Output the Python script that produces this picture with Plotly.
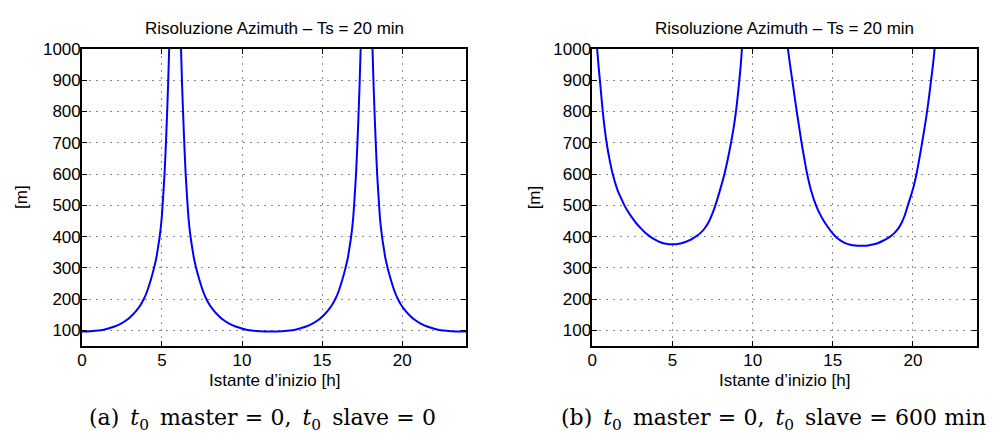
import plotly.graph_objects as go

# ---------------- data ----------------
# (a) t0 master = 0, t0 slave = 0  -- three visible branches
a1_t = [0, 0.54, 1.04, 1.54, 2.04, 2.44, 2.84, 3.14, 3.39, 3.64, 3.89, 4.09, 4.29, 4.49, 4.64, 4.76,
        4.88, 4.98, 5.07, 5.16, 5.24, 5.31, 5.38, 5.45]
a1_v = [97, 98, 100, 105, 113, 122, 135, 149, 163, 180, 203, 228, 260, 297, 330, 367,
        410, 458, 525, 600, 690, 780, 880, 1000]

a2_t = [6.19, 6.26, 6.33, 6.40, 6.48, 6.57, 6.66, 6.76, 6.88, 7.0, 7.15, 7.35, 7.55, 7.75, 8.0, 8.25,
        8.5, 8.8, 9.2, 9.6, 10.1, 10.6, 11.1, 11.8, 12.5, 13.0, 13.5, 14.0, 14.4, 14.8, 15.1, 15.35,
        15.6, 15.85, 16.05, 16.25, 16.45, 16.6, 16.72, 16.84, 16.94, 17.03, 17.12, 17.2, 17.27, 17.34, 17.41]
a2_v = [1000, 880, 780, 690, 600, 525, 458, 410, 367, 330, 297, 260, 228, 203, 180, 163,
        149, 135, 122, 113, 105, 100, 98, 97, 98, 100, 105, 113, 122, 135, 149, 163,
        180, 203, 228, 260, 297, 330, 367, 410, 458, 525, 600, 690, 780, 880, 1000]

a3_t = [18.15, 18.22, 18.29, 18.36, 18.44, 18.53, 18.62, 18.72, 18.84, 18.96, 19.11, 19.31, 19.51, 19.71,
        19.96, 20.21, 20.46, 20.76, 21.16, 21.56, 22.06, 22.56, 23.06, 23.78, 24.0]
a3_v = [1000, 880, 780, 690, 600, 525, 458, 410, 367, 330, 297, 260, 228, 203,
        180, 163, 149, 135, 122, 113, 105, 100, 98, 97, 97]

# (b) t0 master = 0, t0 slave = 600 min -- two visible branches
b1_t = [0.30, 0.38, 0.47, 0.56, 0.65, 0.76, 0.89, 1.06, 1.27, 1.55, 1.8, 2.0, 2.25, 2.5, 2.75, 3.0,
        3.25, 3.5, 3.75, 4.0, 4.25, 4.5, 4.75, 5.0, 5.25, 5.5, 5.75, 6.0, 6.25, 6.5, 6.75, 7.0,
        7.25, 7.5, 7.75, 8.0, 8.24, 8.45, 8.65, 8.82, 8.96, 9.07, 9.17, 9.26, 9.33]
b1_v = [1000, 950, 900, 850, 800, 750, 700, 650, 600, 552, 522, 500, 478, 459, 442, 428,
        415, 404, 395, 388, 382, 378, 376, 375.5, 376, 378, 382, 387, 394, 402, 412, 426,
        446, 475, 512, 555, 600, 648, 700, 750, 800, 850, 900, 950, 1000]

b2_t = [12.2, 12.33, 12.47, 12.61, 12.75, 12.9, 13.05, 13.22, 13.4, 13.63, 13.95, 14.2, 14.45, 14.7,
        14.95, 15.2, 15.45, 15.7, 15.95, 16.25, 16.55, 16.88, 17.2, 17.5, 17.8, 18.1, 18.35, 18.6,
        18.85, 19.1, 19.3, 19.5, 19.68, 19.85, 20.05, 20.22, 20.4, 20.57, 20.73, 20.88, 21.01, 21.13,
        21.25, 21.35]
b2_v = [1000, 950, 900, 850, 800, 750, 700, 650, 600, 550, 500, 472, 449, 430,
        413, 399, 389, 381, 376, 372.5, 371, 371, 372, 375, 379, 386, 393, 401,
        412, 427, 445, 470, 500, 527, 562, 600, 650, 700, 750, 800, 850, 900,
        950, 1000]

x_ticks = [0, 5, 10, 15, 20]
y_ticks = [100, 200, 300, 400, 500, 600, 700, 800, 900, 1000]
x_range = [0, 24]
y_range = [50, 1000]

title_text = "Risoluzione Azimuth \u2013 Ts = 20 min"
xlabel_text = "Istante d\u2019inizio [h]"
ylabel_text = "[m]"
caption_a = ("(a)\u2002<i>t</i><sub>0</sub>\u2002master\u2004=\u20040,\u2002"
             "<i>t</i><sub>0</sub>\u2002slave\u2004=\u20040")
caption_b = ("(b)\u2002<i>t</i><sub>0</sub>\u2002master\u2004=\u20040,\u2002"
             "<i>t</i><sub>0</sub>\u2002slave\u2004=\u2004600\u2004min")

# ---------------- figure ----------------
W, H = 997, 435
fig = go.Figure()

line_style = dict(color="#0000ff", width=2, shape="spline", smoothing=0.7)
for t, v in [(a1_t, a1_v), (a2_t, a2_v), (a3_t, a3_v)]:
    fig.add_trace(go.Scatter(x=t, y=v, mode="lines", line=line_style, xaxis="x", yaxis="y",
                             showlegend=False, hoverinfo="skip"))
for t, v in [(b1_t, b1_v), (b2_t, b2_v)]:
    fig.add_trace(go.Scatter(x=t, y=v, mode="lines", line=line_style, xaxis="x2", yaxis="y2",
                             showlegend=False, hoverinfo="skip"))

left_dom = [77.3 / W, 463.5 / W]
right_dom = [590.3 / W, 977.0 / W]
y_dom = [1 - 344.3 / H, 1 - 40.7 / H]

tick_font = dict(family="Liberation Sans, Arial, sans-serif", size=17, color="black")
axis_common = dict(
    showline=True, linecolor="black", linewidth=1.5, mirror="ticks",
    ticks="inside", ticklen=5, tickwidth=1, tickcolor="black",
    showgrid=True, gridcolor="#8a8a8a", griddash="2px,5px", gridwidth=1,
    zeroline=False, tickfont=tick_font, fixedrange=True,
)

fig.update_layout(
    width=W, height=H,
    margin=dict(l=0, r=0, t=0, b=0),
    paper_bgcolor="white", plot_bgcolor="white",
    xaxis=dict(domain=left_dom, range=x_range, tickvals=x_ticks, anchor="y",
               ticklabelstandoff=-2, **axis_common),
    yaxis=dict(domain=y_dom, range=y_range, tickvals=y_ticks, anchor="x",
               ticklabelstandoff=-4, **axis_common),
    xaxis2=dict(domain=right_dom, range=x_range, tickvals=x_ticks, anchor="y2",
                ticklabelstandoff=-2, **axis_common),
    yaxis2=dict(domain=y_dom, range=y_range, tickvals=y_ticks, anchor="x2",
                ticklabelstandoff=-4, **axis_common),
)

label_font = dict(family="Liberation Sans, Arial, sans-serif", size=17, color="black")
cap_font = dict(family="DejaVu Serif, serif", size=22, color="black")

annotations = []
for dom in (left_dom, right_dom):
    cx = (dom[0] + dom[1]) / 2
    annotations.append(dict(text=title_text, x=cx, y=1 - 20 / H, xref="paper", yref="paper",
                            xanchor="center", yanchor="middle", showarrow=False, font=label_font))
    annotations.append(dict(text=xlabel_text, x=cx, y=1 - 379.5 / H, xref="paper", yref="paper",
                            xanchor="center", yanchor="middle", showarrow=False, font=label_font))
annotations.append(dict(text=ylabel_text, x=16 / W, y=1 - 192 / H, xref="paper", yref="paper",
                        xanchor="center", yanchor="middle", textangle=-90, showarrow=False, font=label_font))
annotations.append(dict(text=ylabel_text, x=532 / W, y=1 - 192 / H, xref="paper", yref="paper",
                        xanchor="center", yanchor="middle", textangle=-90, showarrow=False, font=label_font))
annotations.append(dict(text=caption_a, x=259 / W, y=1 - 419 / H, xref="paper", yref="paper",
                        xanchor="center", yanchor="middle", showarrow=False, font=cap_font))
annotations.append(dict(text=caption_b, x=772 / W, y=1 - 419 / H, xref="paper", yref="paper",
                        xanchor="center", yanchor="middle", showarrow=False, font=cap_font))
fig.update_layout(annotations=annotations)

fig.write_html("out.html", config={"displayModeBar": False})
